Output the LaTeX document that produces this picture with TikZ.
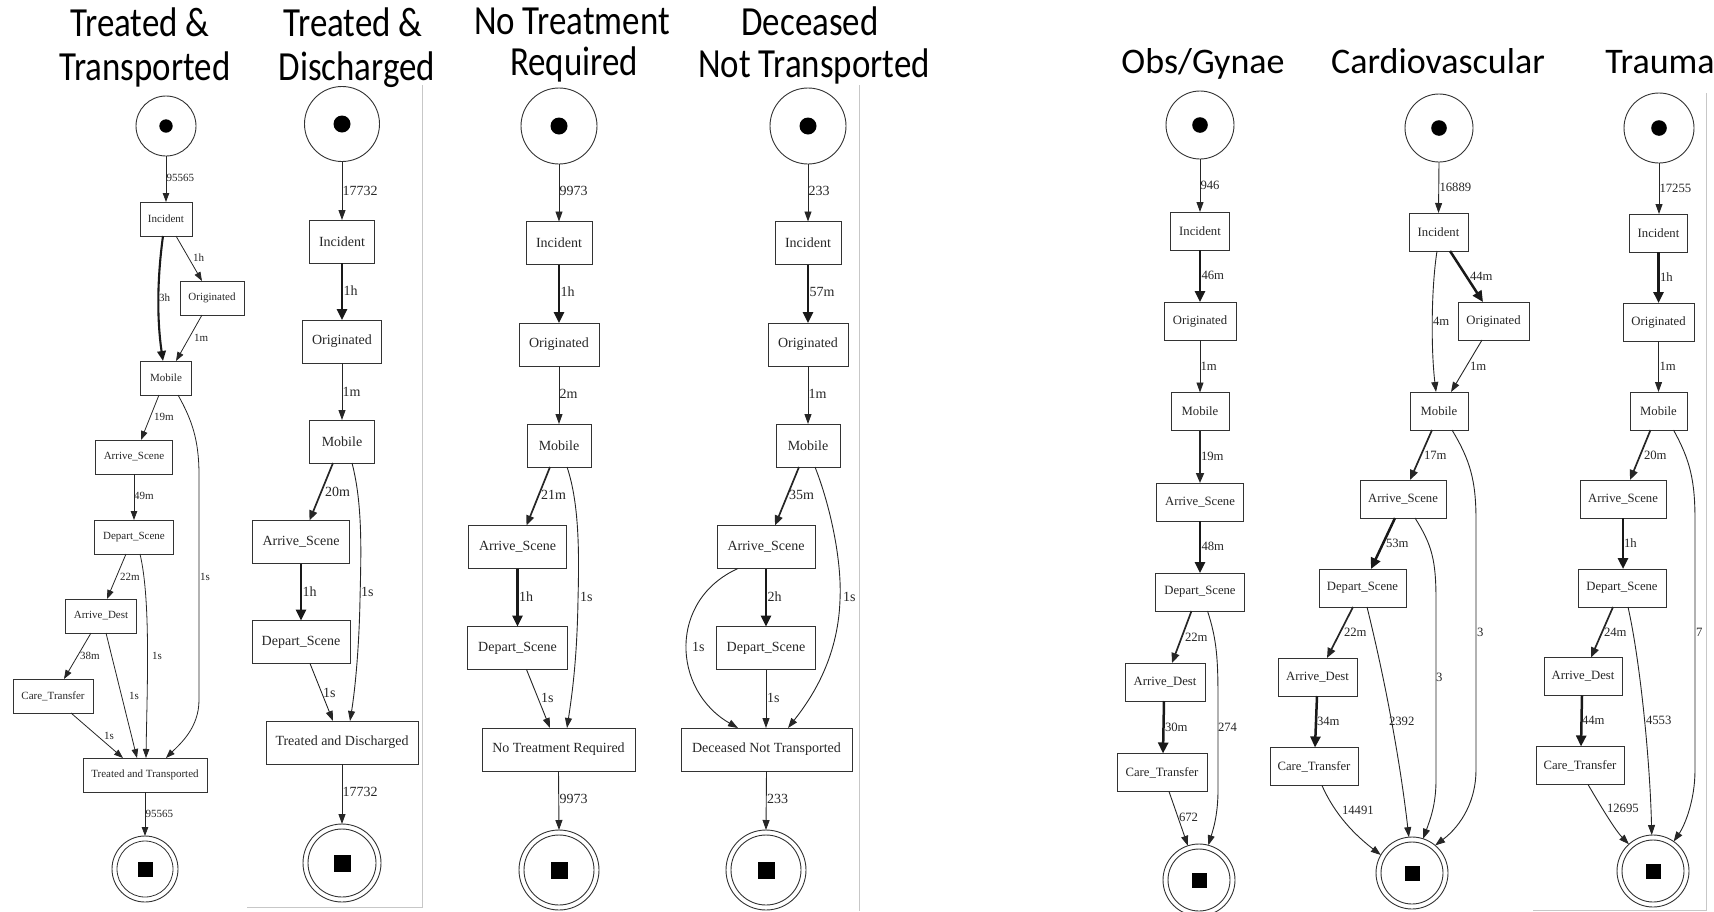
\documentclass[tikz,border=0pt]{standalone}
\usepackage{fontspec}
\setmainfont{Liberation Serif}
\newfontfamily\titlefont{Carlito}
\usetikzlibrary{arrows.meta}

\begin{document}
\begin{tikzpicture}[x=1pt,y=-1pt,
  every node/.style={inner sep=0pt, outer sep=0pt, text=black!85},
  trA/.style={draw=black!80, line width=0.8pt, minimum height=34pt, font=\fontsize{11}{13}\selectfont},
  trB/.style={draw=black!80, line width=0.9pt, minimum height=43pt, font=\fontsize{14}{16}\selectfont},
  trC/.style={draw=black!80, line width=0.9pt, minimum height=38pt, font=\fontsize{12.7}{15}\selectfont},
  place/.style={draw=black!80, line width=0.9pt, circle},
  lbA/.style={anchor=west, font=\fontsize{11}{13}\selectfont},
  lbB/.style={anchor=west, font=\fontsize{14}{16}\selectfont},
  lbC/.style={anchor=west, font=\fontsize{12.7}{15}\selectfont},
  arr/.style={draw=black!85, line width=0.9pt, -{Triangle[length=10pt,width=7pt]}},
  arrA/.style={draw=black!85, line width=0.8pt, -{Triangle[length=9pt,width=6.5pt]}},
  med/.style={draw=black!85, line width=1.7pt, -{Triangle[length=10pt,width=8pt]}},
  thk/.style={draw=black!90, line width=2.5pt, -{Triangle[length=11pt,width=10pt]}},
  thkA/.style={draw=black!90, line width=2.1pt, -{Triangle[length=10pt,width=8.5pt]}},
  ttl/.style={anchor=base, font=\titlefont\fontsize{36}{40}\selectfont, text=black},
  frame/.style={draw=black!22, line width=1pt}
]
\useasboundingbox (0,0) rectangle (1714,911);

% ---------- titles ----------
\node[ttl] (h1a) at (140,36) {\scalebox{0.97}[1.15]{Treated \&}};
\node[ttl] (h1b) at (145,80) {\scalebox{0.97}[1.15]{Transported}};
\node[ttl] (h2a) at (353,36) {\scalebox{0.97}[1.15]{Treated \&}};
\node[ttl] (h2b) at (357,80) {\scalebox{0.97}[1.15]{Discharged}};
\node[ttl] (h3a) at (572,34) {\scalebox{0.97}[1.15]{No Treatment}};
\node[ttl] (h3b) at (574,75) {\scalebox{0.97}[1.15]{Required}};
\node[ttl] (h4a) at (810,35) {\scalebox{0.97}[1.15]{Deceased}};
\node[ttl] (h4b) at (814,77) {\scalebox{0.97}[1.15]{Not Transported}};
\node[ttl] (h5) at (1203,73) {Obs/Gynae};
\node[ttl] (h6) at (1438,73) {Cardiovascular};
\node[ttl] (h7) at (1660,73) {Trauma};

% ---------- image frames ----------
\draw[frame] (422,85) -- (422,907) -- (247,907);
\draw[frame] (859,85) -- (859,911);
\draw[frame] (1706,93) -- (1706,910) -- (1533,910);

% ---------- Treated & Transported ----------
\node[place, minimum size=60pt] (s1) at (166,126) {};
\fill[black] (s1.center) circle[radius=6.7];
\node[trA, minimum width=52pt] (c1i) at (166,219) {Incident};
\node[trA, minimum width=64pt] (c1o) at (212,298) {Originated};
\node[trA, minimum width=51pt] (c1m) at (166,378) {Mobile};
\node[trA, minimum width=77pt] (c1as) at (134,457) {Arrive\_Scene};
\node[trA, minimum width=79pt] (c1ds) at (134,537) {Depart\_Scene};
\node[trA, minimum width=71pt] (c1ad) at (101,616) {Arrive\_Dest};
\node[trA, minimum width=80pt] (c1ct) at (53,696) {Care\_Transfer};
\node[trA, minimum width=124pt] (c1tt) at (145,775) {Treated and Transported};
\node[place, minimum size=66pt] (e1) at (145,869) {};
\draw[black!80, line width=0.8pt] (e1.center) circle[radius=28];
\fill[black] (e1.center) ++(-7.5,-7.5) rectangle ++(15,15);

\draw[arrA] (s1.south) -- (c1i.north) node[lbA] at (166.5,178) {95565};
\draw[thkA] ([xshift=-3pt]c1i.south) .. controls (157,280) and (157,320) .. ([xshift=-3pt]c1m.north) node[lbA] at (159,298) {3h};
\draw[arrA] ([xshift=10pt]c1i.south) -- ([xshift=-10pt]c1o.north) node[lbA] at (193,258) {1h};
\draw[arrA] ([xshift=-10pt]c1o.south) -- ([xshift=10pt]c1m.north) node[lbA] at (194,338) {1m};
\draw[arrA] ([xshift=-7pt]c1m.south) -- ([xshift=7pt]c1as.north) node[lbA] at (154,417) {19m};
\draw[arrA] ([xshift=12pt]c1m.south) .. controls (192,420) and (199,440) .. (199,475) -- (199,700) .. controls (199,728) and (180,744) .. ([xshift=21pt]c1tt.north) node[lbA] at (200,577) {1s};
\draw[arrA] (c1as.south) -- (c1ds.north) node[lbA] at (134,496) {49m};
\draw[arrA] ([xshift=-8pt]c1ds.south) -- ([xshift=6pt]c1ad.north) node[lbA] at (120,577) {22m};
\draw[arrA] ([xshift=6pt]c1ds.south) .. controls (151,600) and (147,690) .. ([xshift=1pt]c1tt.north) node[lbA] at (152,656) {1s};
\draw[arrA] ([xshift=-10pt]c1ad.south) -- ([xshift=11pt]c1ct.north) node[lbA] at (80,656) {38m};
\draw[arrA] ([xshift=5pt]c1ad.south) -- ([xshift=-8pt]c1tt.north) node[lbA] at (129,696) {1s};
\draw[arrA] ([xshift=18pt]c1ct.south) -- ([xshift=-22pt]c1tt.north) node[lbA] at (104,736) {1s};
\draw[arrA] (c1tt.south) -- (e1.north) node[lbA] at (145.5,814) {95565};

% ---------- Treated & Discharged ----------
\node[place, minimum size=75pt] (s2) at (342,124) {};
\fill[black] (s2.center) circle[radius=8.5];
\node[trB, minimum width=65pt] (c2i) at (342,241.5) {Incident};
\node[trB, minimum width=79pt] (c2o) at (342,341.5) {Originated};
\node[trB, minimum width=65pt] (c2m) at (342,441.5) {Mobile};
\node[trB, minimum width=97pt] (c2as) at (301,542) {Arrive\_Scene};
\node[trB, minimum width=98pt] (c2ds) at (301,642) {Depart\_Scene};
\node[trB, minimum width=152pt] (c2td) at (342,742.5) {Treated and Discharged};
\node[place, minimum size=78pt] (e2) at (342,863) {};
\draw[black!80, line width=0.9pt] (e2.center) circle[radius=34];
\fill[black] (e2.center) ++(-8.5,-8.5) rectangle ++(17,17);

\draw[arr] (s2.south) -- (c2i.north) node[lbB] at (342.5,191) {17732};
\draw[thk] (c2i.south) -- (c2o.north) node[lbB] at (343.5,291) {1h};
\draw[arr] (c2o.south) -- (c2m.north) node[lbB] at (342.5,392) {1m};
\draw[med] ([xshift=-9pt]c2m.south) -- ([xshift=8.5pt]c2as.north) node[lbB] at (325,492) {20m};
\draw[arr] ([xshift=10pt]c2m.south) .. controls (363,505) and (361,555) .. (360,600) .. controls (359,650) and (355,690) .. ([xshift=8pt]c2td.north) node[lbB] at (361,592) {1s};
\draw[thk] (c2as.south) -- (c2ds.north) node[lbB] at (302.5,592) {1h};
\draw[arr] ([xshift=9pt]c2ds.south) -- ([xshift=-9pt]c2td.north) node[lbB] at (323,693) {1s};
\draw[arr] (c2td.south) -- (e2.north) node[lbB] at (342.5,792) {17732};

% ---------- No Treatment Required ----------
\node[place, minimum size=76pt] (s3) at (559,126) {};
\fill[black] (s3.center) circle[radius=8.5];
\node[trB, minimum width=66pt] (c3i) at (559,243) {Incident};
\node[trB, minimum width=80pt] (c3o) at (559,344.5) {Originated};
\node[trB, minimum width=64pt] (c3m) at (559,445.5) {Mobile};
\node[trB, minimum width=98pt] (c3as) at (517.5,547) {Arrive\_Scene};
\node[trB, minimum width=100pt] (c3ds) at (517.5,648) {Depart\_Scene};
\node[trB, minimum width=153pt] (c3nt) at (558.5,749.5) {No Treatment Required};
\node[place, minimum size=80pt] (e3) at (559,870) {};
\draw[black!80, line width=0.9pt] (e3.center) circle[radius=35];
\fill[black] (e3.center) ++(-8.5,-8.5) rectangle ++(17,17);

\draw[arr] (s3.south) -- (c3i.north) node[lbB] at (559.5,191) {9973};
\draw[thk] (c3i.south) -- (c3o.north) node[lbB] at (560.5,292) {1h};
\draw[arr] (c3o.south) -- (c3m.north) node[lbB] at (559.5,394) {2m};
\draw[med] ([xshift=-9pt]c3m.south) -- ([xshift=9pt]c3as.north) node[lbB] at (541,495) {21m};
\draw[arr] ([xshift=8pt]c3m.south) .. controls (580,505) and (579,560) .. (578,600) .. controls (577,660) and (572,695) .. ([xshift=8.5pt]c3nt.north) node[lbB] at (580,597) {1s};
\draw[thk] (c3as.south) -- (c3ds.north) node[lbB] at (519,597) {1h};
\draw[arr] ([xshift=9pt]c3ds.south) -- ([xshift=-8.5pt]c3nt.north) node[lbB] at (541,698) {1s};
\draw[arr] (c3nt.south) -- (e3.north) node[lbB] at (559.5,799) {9973};

% ---------- Deceased Not Transported ----------
\node[place, minimum size=76pt] (s4) at (808,126) {};
\fill[black] (s4.center) circle[radius=8.5];
\node[trB, minimum width=66pt] (c4i) at (808,243) {Incident};
\node[trB, minimum width=80pt] (c4o) at (808,344.5) {Originated};
\node[trB, minimum width=64pt] (c4m) at (808,445.5) {Mobile};
\node[trB, minimum width=98pt] (c4as) at (766,547) {Arrive\_Scene};
\node[trB, minimum width=99pt] (c4ds) at (766,648) {Depart\_Scene};
\node[trB, minimum width=171pt] (c4dn) at (766.5,749.5) {Deceased Not Transported};
\node[place, minimum size=80pt] (e4) at (766,870) {};
\draw[black!80, line width=0.9pt] (e4.center) circle[radius=35];
\fill[black] (e4.center) ++(-8.5,-8.5) rectangle ++(17,17);

\draw[arr] (s4.south) -- (c4i.north) node[lbB] at (808.5,191) {233};
\draw[thk] (c4i.south) -- (c4o.north) node[lbB] at (809.5,292) {57m};
\draw[arr] (c4o.south) -- (c4m.north) node[lbB] at (808.5,394) {1m};
\draw[med] ([xshift=-9pt]c4m.south) -- ([xshift=9pt]c4as.north) node[lbB] at (789,495) {35m};
\draw[arr] ([xshift=7pt]c4m.south) .. controls (830,505) and (842,560) .. (840,600) .. controls (838,660) and (810,700) .. ([xshift=21.5pt]c4dn.north) node[lbB] at (843,597) {1s};
\draw[thk] (c4as.south) -- (c4ds.north) node[lbB] at (767.5,597) {2h};
\draw[arr] ([xshift=-28pt]c4as.south) .. controls (668,600) and (672,690) .. ([xshift=-28.5pt]c4dn.north) node[lbB] at (692,647) {1s};
\draw[arr] (c4ds.south) -- ([xshift=-0.5pt]c4dn.north) node[lbB] at (767,698) {1s};
\draw[arr] (c4dn.south) -- (e4.north) node[lbB] at (767,799) {233};

% ---------- Obs/Gynae ----------
\node[place, minimum size=68pt] (s5) at (1200,125) {};
\fill[black] (s5.center) circle[radius=7.8];
\node[trC, minimum width=59pt] (c5i) at (1200,231) {Incident};
\node[trC, minimum width=72pt] (c5o) at (1200,321) {Originated};
\node[trC, minimum width=58pt] (c5m) at (1200,411.5) {Mobile};
\node[trC, minimum width=87pt] (c5as) at (1200,502) {Arrive\_Scene};
\node[trC, minimum width=89pt] (c5ds) at (1200,592) {Depart\_Scene};
\node[trC, minimum width=80pt] (c5ad) at (1165,682) {Arrive\_Dest};
\node[trC, minimum width=90pt] (c5ct) at (1162,772.5) {Care\_Transfer};
\node[place, minimum size=72pt] (e5) at (1199,880) {};
\draw[black!80, line width=0.9pt] (e5.center) circle[radius=31];
\fill[black] (e5.center) ++(-7.5,-7.5) rectangle ++(15,15);

\draw[arr] (s5.south) -- (c5i.north) node[lbC] at (1200.5,185) {946};
\draw[thk] (c5i.south) -- (c5o.north) node[lbC] at (1201.5,275) {46m};
\draw[arr] (c5o.south) -- (c5m.north) node[lbC] at (1200.5,366) {1m};
\draw[med] (c5m.south) -- (c5as.north) node[lbC] at (1201,456) {19m};
\draw[thk] (c5as.south) -- (c5ds.north) node[lbC] at (1201.5,546) {48m};
\draw[med] ([xshift=-8.5pt]c5ds.south) -- ([xshift=7pt]c5ad.north) node[lbC] at (1185,637) {22m};
\draw[thk] ([xshift=-1pt]c5ad.south) -- ([xshift=1pt]c5ct.north) node[lbC] at (1165,727) {30m};
\draw[arr] ([xshift=7.5pt]c5ds.south) .. controls (1217,640) and (1218,660) .. (1218,700) -- (1218,790) .. controls (1218,815) and (1213,830) .. (e5.75) node[lbC] at (1218,727) {274};
\draw[arr] ([xshift=7pt]c5ct.south) -- (e5.108) node[lbC] at (1179,817) {672};

% ---------- Cardiovascular ----------
\node[place, minimum size=68pt] (s6) at (1439,128) {};
\fill[black] (s6.center) circle[radius=7.8];
\node[trC, minimum width=59pt] (c6i) at (1438.5,232) {Incident};
\node[trC, minimum width=71pt] (c6o) at (1493.5,321) {Originated};
\node[trC, minimum width=58pt] (c6m) at (1439,411) {Mobile};
\node[trC, minimum width=86pt] (c6as) at (1403,499) {Arrive\_Scene};
\node[trC, minimum width=87pt] (c6ds) at (1362.5,588) {Depart\_Scene};
\node[trC, minimum width=79pt] (c6ad) at (1317.5,677) {Arrive\_Dest};
\node[trC, minimum width=88pt] (c6ct) at (1314,766.5) {Care\_Transfer};
\node[place, minimum size=72pt] (e6) at (1412,873) {};
\draw[black!80, line width=0.9pt] (e6.center) circle[radius=31];
\fill[black] (e6.center) ++(-7.5,-7.5) rectangle ++(15,15);

\draw[arr] (s6.south) -- (c6i.north) node[lbC] at (1439.5,187) {16889};
\draw[thk] ([xshift=11.5pt]c6i.south) -- ([xshift=-10.5pt]c6o.north) node[lbC] at (1470,276) {44m};
\draw[arr] ([xshift=-1.5pt]c6i.south) .. controls (1431,290) and (1431,350) .. ([xshift=-3pt]c6m.north) node[lbC] at (1433,321) {4m};
\draw[arr] ([xshift=-11.5pt]c6o.south) -- ([xshift=12pt]c6m.north) node[lbC] at (1470,366) {1m};
\draw[med] ([xshift=-7pt]c6m.south) -- ([xshift=7pt]c6as.north) node[lbC] at (1424,455) {17m};
\draw[arr] ([xshift=13pt]c6m.south) .. controls (1470,460) and (1476,480) .. (1476,520) -- (1476,770) .. controls (1476,800) and (1462,825) .. (e6.50) node[lbC] at (1477,632) {3};
\draw[thk] ([xshift=-8pt]c6as.south) -- ([xshift=8.5pt]c6ds.north) node[lbC] at (1386,543) {53m};
\draw[arr] ([xshift=12pt]c6as.south) .. controls (1432,545) and (1436,560) .. (1436,600) -- (1436,780) .. controls (1436,805) and (1430,820) .. (e6.72) node[lbC] at (1436,677) {3};
\draw[med] ([xshift=-9.5pt]c6ds.south) -- ([xshift=9.5pt]c6ad.north) node[lbC] at (1344,632) {22m};
\draw[arr] ([xshift=4.5pt]c6ds.south) .. controls (1385,680) and (1400,760) .. (e6.95) node[lbC] at (1389,721) {2392};
\draw[thk] ([xshift=-0.5pt]c6ad.south) -- ([xshift=1pt]c6ct.north) node[lbC] at (1317,721) {34m};
\draw[arr] ([xshift=8pt]c6ct.south) .. controls (1335,815) and (1355,835) .. (e6.150) node[lbC] at (1342,810) {14491};

% ---------- Trauma ----------
\node[place, minimum size=70pt] (s7) at (1659,128) {};
\fill[black] (s7.center) circle[radius=7.8];
\node[trC, minimum width=58pt] (c7i) at (1658.5,233) {Incident};
\node[trC, minimum width=71pt] (c7o) at (1658.5,322) {Originated};
\node[trC, minimum width=57pt] (c7m) at (1658.5,411) {Mobile};
\node[trC, minimum width=86pt] (c7as) at (1623,499) {Arrive\_Scene};
\node[trC, minimum width=88pt] (c7ds) at (1622,588) {Depart\_Scene};
\node[trC, minimum width=78pt] (c7ad) at (1583,676.5) {Arrive\_Dest};
\node[trC, minimum width=88pt] (c7ct) at (1580,765.5) {Care\_Transfer};
\node[place, minimum size=72pt] (e7) at (1653,871) {};
\draw[black!80, line width=0.9pt] (e7.center) circle[radius=31];
\fill[black] (e7.center) ++(-7.5,-7.5) rectangle ++(15,15);

\draw[arr] (s7.south) -- ([xshift=0.5pt]c7i.north) node[lbC] at (1659.5,188) {17255};
\draw[thk] (c7i.south) -- (c7o.north) node[lbC] at (1660,277) {1h};
\draw[arr] (c7o.south) -- (c7m.north) node[lbC] at (1659.5,366) {1m};
\draw[med] ([xshift=-8pt]c7m.south) -- ([xshift=7pt]c7as.north) node[lbC] at (1644,455) {20m};
\draw[arr] ([xshift=15pt]c7m.south) .. controls (1690,460) and (1695,480) .. (1695,520) -- (1695,770) .. controls (1695,800) and (1685,825) .. (e7.55) node[lbC] at (1696,632) {7};
\draw[thk] (c7as.south) -- ([xshift=1pt]c7ds.north) node[lbC] at (1624,543) {1h};
\draw[med] ([xshift=-9pt]c7ds.south) -- ([xshift=8pt]c7ad.north) node[lbC] at (1604,632) {24m};
\draw[arr] ([xshift=6pt]c7ds.south) .. controls (1640,660) and (1650,760) .. (e7.92) node[lbC] at (1646,720) {4553};
\draw[thk] ([xshift=-1pt]c7ad.south) -- ([xshift=1pt]c7ct.north) node[lbC] at (1582,720) {44m};
\draw[arr] ([xshift=8pt]c7ct.south) .. controls (1600,805) and (1615,830) .. (e7.132) node[lbC] at (1607,808) {12695};
\end{tikzpicture}
\end{document}
